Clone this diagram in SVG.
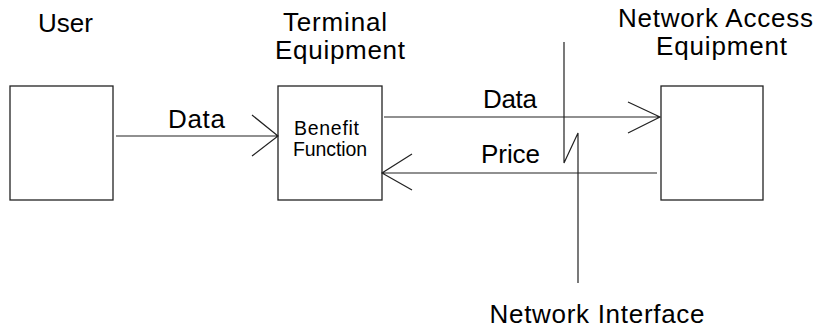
<svg xmlns="http://www.w3.org/2000/svg" width="820" height="330" viewBox="0 0 820 330">
<style>
.box{fill:#fff;stroke:#222;stroke-width:1.3}
.ln{fill:none;stroke:#222;stroke-width:1.2}
.t{font-family:"Liberation Sans",Arial,sans-serif;font-size:26px;fill:#000;text-anchor:middle}
.s{font-family:"Liberation Sans",Arial,sans-serif;font-size:19.5px;fill:#000;text-anchor:middle}
</style>
<rect width="820" height="330" fill="#fff"/>
<g id="user">
<rect class="box" x="10" y="86" width="103" height="114"/>
<text class="t" x="65.5" y="32" textLength="55">User</text>
</g>
<g id="terminal">
<rect class="box" x="278" y="86" width="104" height="114"/>
<text class="t" x="335" y="31" textLength="104">Terminal</text>
<text class="t" x="340" y="59" textLength="130">Equipment</text>
<text class="s" x="326.5" y="135" textLength="65">Benefit</text>
<text class="s" x="330" y="156" textLength="74">Function</text>
</g>
<g id="nae">
<rect class="box" x="661" y="86" width="102" height="114"/>
<text class="t" x="715.5" y="27" textLength="195">Network Access</text>
<text class="t" x="721.5" y="55" textLength="131">Equipment</text>
</g>
<g id="interface">
<text class="t" x="597" y="323" textLength="215">Network Interface</text>
</g>
<g id="connectors">
<path class="ln" d="M116 136H278M252 115L278 136L252 156"/>
<text class="t" x="196.5" y="128" textLength="57">Data</text>
<path class="ln" d="M384 117H660M628 102L660 117L628 133"/>
<text class="t" x="510" y="108" textLength="54">Data</text>
<path class="ln" d="M657 173H382M412 154L382 173L412 190"/>
<text class="t" x="510.5" y="163" textLength="59">Price</text>
<path class="ln" d="M564 42V163L578 133V283"/>
</g>
</svg>
